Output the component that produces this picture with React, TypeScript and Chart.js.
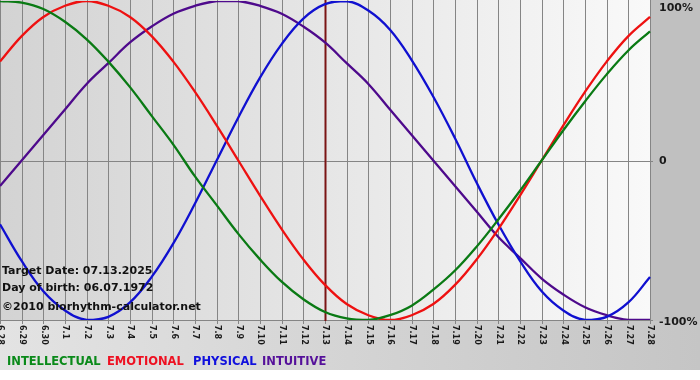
import React, { useEffect, useRef } from "react";
import { Chart, registerables } from "chart.js";

Chart.register(...registerables);

const days: string[] = [
  "6.28", "6.29", "6.30", "7.1", "7.2", "7.3", "7.4", "7.5", "7.6", "7.7", "7.8",
  "7.9", "7.10", "7.11", "7.12", "7.13", "7.14", "7.15", "7.16", "7.17", "7.18",
  "7.19", "7.20", "7.21", "7.22", "7.23", "7.24", "7.25", "7.26", "7.27", "7.28",
];

const intellectual: number[] = [
  100, 99, 95, 87, 76, 62, 46, 28, 10, -10, -28, -46, -62, -76, -87, -95,
  -99, -100, -97, -91, -81, -69, -54, -37, -19, 0, 19, 37, 54, 69, 81,
];
const emotional: number[] = [
  62, 78, 90, 97, 100, 97, 90, 78, 62, 43, 22, 0, -22, -43, -62, -78,
  -90, -97, -100, -97, -90, -78, -62, -43, -22, 0, 22, 43, 62, 78, 90,
];
const physical: number[] = [
  -40, -63, -82, -94, -100, -98, -89, -73, -52, -27, 0, 27, 52, 73, 89, 98,
  100, 94, 82, 63, 40, 14, -14, -40, -63, -82, -94, -100, -98, -89, -73,
];
const intuitive: number[] = [
  -16, 0, 16, 32, 48, 61, 74, 84, 92, 97, 100, 100, 97, 92, 84, 74,
  61, 48, 32, 16, 0, -16, -32, -48, -61, -74, -84, -92, -97, -100, -100,
];

const yTickValues: number[] = [100, 0, -100];
const yTickLabels: string[] = ["100%", "0", "-100%"];
const targetDay = "7.13";
const infoLines: string[] = [
  "Target Date: 07.13.2025",
  "Day of birth: 06.07.1972",
  "\u00A92010 biorhythm-calculator.net",
];
const legendNames: string[] = ["INTELLECTUAL", "EMOTIONAL", "PHYSICAL", "INTUITIVE"];
const colors: string[] = ["#0a7a14", "#ee1111", "#1010d0", "#4e0a8c"];
const legendColors: string[] = ["#0a8a1a", "#ee1122", "#1010dd", "#55109a"];

const FONT = '"DejaVu Sans", Verdana, sans-serif';

const decorPlugin = {
  id: "decor",
  beforeDraw(chart: any) {
    const { ctx, chartArea, width, height } = chart;
    const xs = chart.scales.x;
    const ys = chart.scales.y;
    const L = chartArea.left, R = chartArea.right, B = chartArea.bottom;
    ctx.save();
    ctx.fillStyle = "#ffffff";
    ctx.fillRect(0, 0, width, height);
    const gb = ctx.createLinearGradient(0, 0, width, 0);
    gb.addColorStop(0, "#e3e3e3");
    gb.addColorStop(1, "#c5c5c5");
    ctx.fillStyle = gb;
    ctx.fillRect(0, B, width, 370 - B);
    ctx.fillStyle = "#c0c0c0";
    ctx.fillRect(R, 0, width - R, B + 1);
    const gp = ctx.createLinearGradient(L, 0, R, 0);
    gp.addColorStop(0, "#d3d3d3");
    gp.addColorStop(1, "#f9f9f9");
    ctx.fillStyle = gp;
    ctx.fillRect(L, 0, R - L, B + 1);
    ctx.strokeStyle = "#858585";
    ctx.lineWidth = 1;
    days.forEach((d, i) => {
      const x = Math.round(xs.getPixelForValue(i)) + 0.5;
      ctx.beginPath();
      ctx.moveTo(x, 0);
      ctx.lineTo(x, B + 4);
      ctx.stroke();
    });
    const y0 = Math.round(ys.getPixelForValue(0)) + 0.5;
    ctx.beginPath();
    ctx.moveTo(L, y0);
    ctx.lineTo(R + 3, y0);
    ctx.stroke();
    ctx.beginPath();
    ctx.moveTo(L, Math.round(B) + 0.5);
    ctx.lineTo(R + 3, Math.round(B) + 0.5);
    ctx.stroke();
    const ti = days.indexOf(targetDay);
    const tx = Math.round(xs.getPixelForValue(ti)) + 0.5;
    ctx.strokeStyle = "#7a1414";
    ctx.lineWidth = 2;
    ctx.beginPath();
    ctx.moveTo(tx, 0);
    ctx.lineTo(tx, B + 1);
    ctx.stroke();
    ctx.restore();
  },
  afterDatasetsDraw(chart: any) {
    const { ctx, chartArea } = chart;
    const xs = chart.scales.x;
    const ys = chart.scales.y;
    const R = chartArea.right, B = chartArea.bottom;
    ctx.save();
    ctx.fillStyle = "#1a1a1a";
    ctx.font = "bold 8px " + FONT;
    ctx.textAlign = "left";
    ctx.textBaseline = "middle";
    days.forEach((d, i) => {
      const x = xs.getPixelForValue(i);
      ctx.save();
      ctx.translate(x + 0.5, B + 5);
      ctx.rotate(Math.PI / 2);
      ctx.fillText(d, 0, 0);
      ctx.restore();
    });
    ctx.font = "bold 11px " + FONT;
    ctx.textBaseline = "middle";
    yTickValues.forEach((v, i) => {
      let y = ys.getPixelForValue(v);
      if (v === 100) y += 7;
      if (v === -100) y += 2;
      if (v === 0) y += 1;
      ctx.fillText(yTickLabels[i], R + 9, y);
    });
    ctx.font = "bold 11px " + FONT;
    ctx.fillStyle = "#111111";
    const infoY = [271, 288, 307];
    infoLines.forEach((t, i) => ctx.fillText(t, 2, infoY[i]));
    ctx.font = "bold 11.5px " + FONT;
    const legX = [7, 107, 193, 262];
    legendNames.forEach((n, i) => {
      ctx.fillStyle = legendColors[i];
      ctx.fillText(n, legX[i], 362);
    });
    ctx.restore();
  },
};

export default function App() {
  const ref = useRef<HTMLCanvasElement | null>(null);
  useEffect(() => {
    if (!ref.current) return;
    const series = [intellectual, emotional, physical, intuitive];
    const chart = new Chart(ref.current, {
      type: "line",
      data: {
        labels: days,
        datasets: series.map((s, i) => ({
          label: legendNames[i],
          data: s,
          borderColor: colors[i],
          borderWidth: 2.3,
          pointRadius: 0,
          fill: false,
          tension: 0.4,
        })),
      },
      options: {
        responsive: false,
        animation: false,
        devicePixelRatio: 1,
        layout: { padding: { left: 0, right: 50, top: 1, bottom: 60 } },
        plugins: { legend: { display: false }, tooltip: { enabled: false } },
        scales: {
          x: { display: false },
          y: { display: false, min: -100, max: 100 },
        },
      },
      plugins: [decorPlugin],
    });
    return () => chart.destroy();
  }, []);
  return (
    <div style={{ position: "absolute", left: 0, top: 0, width: 700, height: 380 }}>
      <canvas ref={ref} width={700} height={380} style={{ display: "block" }} />
    </div>
  );
}
